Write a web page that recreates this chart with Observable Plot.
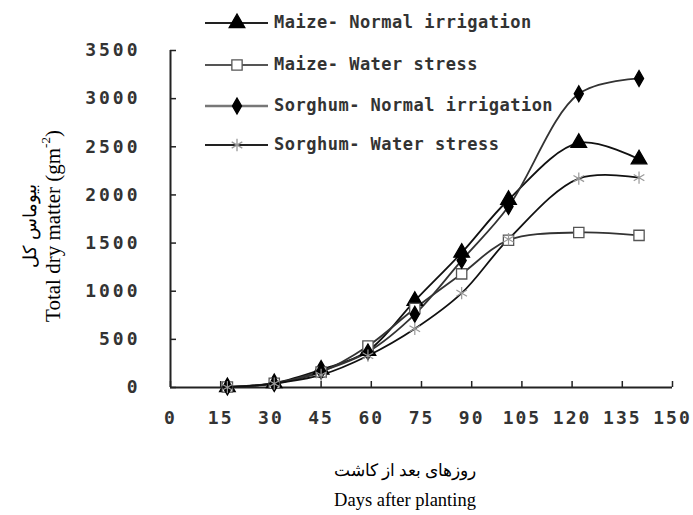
<!DOCTYPE html>
<html><head><meta charset="utf-8">
<script src="https://cdn.jsdelivr.net/npm/d3@7"></script>
<script src="https://cdn.jsdelivr.net/npm/@observablehq/plot@0.6"></script>
<style>
body{margin:0;background:#fff}
#chart{position:relative;width:693px;height:515px}
</style>
</head><body><div id="chart"></div>
<script>
const days = [17, 31, 45, 59, 73, 87, 101, 122, 140];
const seriesNames = ["Maize- Normal irrigation", "Maize- Water stress", "Sorghum- Normal irrigation", "Sorghum- Water stress"];
const maizeNormal   = [5, 45, 185, 380, 900, 1400, 1950, 2540, 2370];
const maizeStress   = [5, 45, 160, 430, 820, 1180, 1530, 1610, 1580];
const sorghumNormal = [5, 40, 170, 370, 760, 1320, 1880, 3050, 3210];
const sorghumStress = [3, 40, 130, 330, 610, 980, 1540, 2170, 2180];
const xTicks = [0, 15, 30, 45, 60, 75, 90, 105, 120, 135, 150];
const yTicks = [0, 500, 1000, 1500, 2000, 2500, 3000, 3500];

const seriesValues = [maizeNormal, maizeStress, sorghumNormal, sorghumStress];
const lineColors = ["#111", "#333", "#333", "#111"];
const symbols = ["triangle", "square", "diamond", "asterisk"];
const fills = ["#000", "#fff", "#000", "none"];
const strokes = ["#000", "#555", "#000", "#999"];
const radii = [5.8, 5.8, 4.8, 5.8];

const data = seriesNames.flatMap((s, i) => days.map((d, j) => ({series: s, day: d, value: seriesValues[i][j]})));

const chart = Plot.plot({
  width: 693, height: 515,
  marginLeft: 170, marginRight: 21, marginTop: 50, marginBottom: 128,
  style: {background: "#fff", color: "#333", fontFamily: "DejaVu Sans Mono, monospace"},
  x: {domain: [0, 150]},
  y: {domain: [0, 3500]},
  color: {domain: seriesNames, range: lineColors},
  marks: [
    Plot.axisX({ticks: xTicks, tickSize: 6, dy: -6, fill: "none", stroke: "#222", strokeWidth: 1.5}),
    Plot.axisX({ticks: xTicks, tickSize: 0, tickPadding: 24, fontSize: 18, fontWeight: "bold", fill: "#333", label: null, tickFormat: d => String(d)}),
    Plot.axisY({ticks: yTicks, tickSize: 6, dx: 6, fill: "none", stroke: "#222", strokeWidth: 1.5}),
    Plot.axisY({ticks: yTicks, tickSize: 0, tickPadding: 30, fontSize: 18, fontWeight: "bold", fill: "#333", label: null, tickFormat: d => String(d)}),
    Plot.ruleX([0], {stroke: "#222", strokeWidth: 2}),
    Plot.ruleY([0], {stroke: "#222", strokeWidth: 2}),
    Plot.line(data, {x: "day", y: "value", z: "series", stroke: "series", curve: "catmull-rom", strokeWidth: 1.8}),
    ...seriesNames.map((s, i) => Plot.dot(data.filter(d => d.series === s), {
      x: "day", y: "value", symbol: () => symbols[i], r: radii[i],
      fill: fills[i], stroke: strokes[i], strokeWidth: i === 3 ? 1.2 : 1.3
    }))
  ]
});

document.getElementById("chart").appendChild(chart);
const svg = d3.select(chart);
svg.selectAll('g[aria-label="y-axis tick label"] text').style("letter-spacing", "3px");
svg.selectAll('g[aria-label="x-axis tick label"] text').style("letter-spacing", "2px");

// axis titles
const serif = "Liberation Serif, Times New Roman, serif";
const yEn = svg.append("text")
  .attr("transform", "translate(55,226) rotate(-90)")
  .attr("text-anchor", "middle").attr("font-family", serif).attr("font-size", 21).attr("fill", "#000")
  .attr("dominant-baseline", "middle");
yEn.append("tspan").text("Total dry matter (gm");
yEn.append("tspan").attr("baseline-shift", "super").attr("font-size", 13).text("-2");
yEn.append("tspan").text(")");
svg.append("text")
  .attr("transform", "translate(32,226) rotate(-90)")
  .attr("text-anchor", "middle").attr("font-family", serif).attr("font-size", 18).attr("fill", "#000")
  .attr("dominant-baseline", "middle").attr("direction", "rtl")
  .text("بیوماس کل");
svg.append("text").attr("x", 405).attr("y", 476)
  .attr("text-anchor", "middle").attr("font-family", serif).attr("font-size", 17).attr("fill", "#000")
  .attr("direction", "rtl").text("روزهای بعد از کاشت");
svg.append("text").attr("x", 405).attr("y", 506)
  .attr("text-anchor", "middle").attr("font-family", serif).attr("font-size", 18.5).attr("fill", "#000")
  .text("Days after planting");

// legend
const legendY = [23, 65, 106, 145];
const lg = svg.append("g");
seriesNames.forEach((s, i) => {
  const y = legendY[i];
  lg.append("line").attr("x1", 205).attr("x2", 268).attr("y1", y).attr("y2", y)
    .attr("stroke", i === 2 ? "#777" : (i === 1 ? "#555" : "#222")).attr("stroke-width", i === 2 ? 2.5 : 1.8);
  const sym = {triangle: d3.symbolTriangle, square: d3.symbolSquare, diamond: d3.symbolDiamond, asterisk: d3.symbolAsterisk}[symbols[i]];
  lg.append("path").attr("d", d3.symbol(sym, Math.PI * radii[i] * radii[i])())
    .attr("transform", `translate(237,${y})`)
    .attr("fill", fills[i]).attr("stroke", strokes[i]).attr("stroke-width", 1.3);
  lg.append("text").attr("x", 274).attr("y", y).attr("dominant-baseline", "middle")
    .attr("text-anchor", "start").style("letter-spacing", "0.5px")
    .attr("font-family", "DejaVu Sans Mono, monospace").attr("font-weight", "bold")
    .attr("font-size", 17).attr("fill", "#333").text(s);
});
</script>
</body></html>
